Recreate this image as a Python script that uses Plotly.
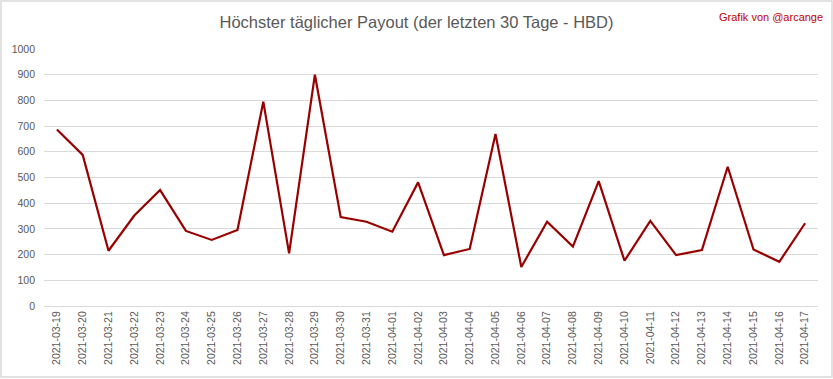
import plotly.graph_objects as go

dates = ["2021-03-19", "2021-03-20", "2021-03-21", "2021-03-22", "2021-03-23", "2021-03-24",
         "2021-03-25", "2021-03-26", "2021-03-27", "2021-03-28", "2021-03-29", "2021-03-30",
         "2021-03-31", "2021-04-01", "2021-04-02", "2021-04-03", "2021-04-04", "2021-04-05",
         "2021-04-06", "2021-04-07", "2021-04-08", "2021-04-09", "2021-04-10", "2021-04-11",
         "2021-04-12", "2021-04-13", "2021-04-14", "2021-04-15", "2021-04-16", "2021-04-17"]
payout = [687, 588, 215, 352, 451, 292, 257, 296, 795, 205,
          900, 346, 328, 289, 481, 198, 222, 669, 152, 328,
          231, 486, 176, 331, 198, 218, 542, 220, 172, 322]
y_ticks = [0, 100, 200, 300, 400, 500, 600, 700, 800, 900, 1000]

FONT = "Liberation Sans, Arial, sans-serif"
L, R, T, B = 44, 15, 49, 73
PW, PH = 833 - L - R, 379 - T - B

fig = go.Figure()
fig.add_trace(go.Scatter(x=dates, y=payout, mode="lines",
                         line=dict(color="#990000", width=2.2), showlegend=False))

fig.update_layout(
    width=833, height=379,
    margin=dict(l=L, r=R, t=T, b=B),
    paper_bgcolor="white", plot_bgcolor="white",
    title=dict(text="Höchster täglicher Payout (der letzten 30 Tage - HBD)",
               x=0.5, xanchor="center", y=1 - 22 / 379, yanchor="middle",
               font=dict(family=FONT, size=16.5, color="#595959")),
    font=dict(family=FONT, color="#595959"),
    xaxis=dict(type="category", range=[-0.5, len(dates) - 0.5], tickangle=-90,
               tickfont=dict(size=10.5, color="#595959"),
               showgrid=False, showline=True, linecolor="#d9d9d9", ticks="", ticklen=0),
    yaxis=dict(range=[0, 1000], tickvals=y_ticks, tickfont=dict(size=10.5, color="#595959"),
               showgrid=True, gridcolor="#d9d9d9", gridwidth=1, zeroline=False, ticks="",
               ticklabelstandoff=8),
    annotations=[dict(text="Grafik von @arcange", xref="paper", yref="paper",
                      x=(825 - L) / PW, y=1 + (T - 17) / PH, xanchor="right", yanchor="middle",
                      showarrow=False,
                      font=dict(family=FONT, size=11, color="#C00000"))],
    shapes=[dict(type="rect", xref="paper", yref="paper",
                 x0=(1 - L) / PW, x1=(832 - L) / PW, y0=-(B - 2) / PH, y1=1 + (T - 1) / PH,
                 line=dict(color="#d9d9d9", width=1.5), fillcolor="rgba(0,0,0,0)", layer="below")]
)

fig.write_html("out.html", config={"displayModeBar": False},
               post_script="document.body.style.margin='0';document.body.style.padding='0';document.body.style.overflow='hidden';")
